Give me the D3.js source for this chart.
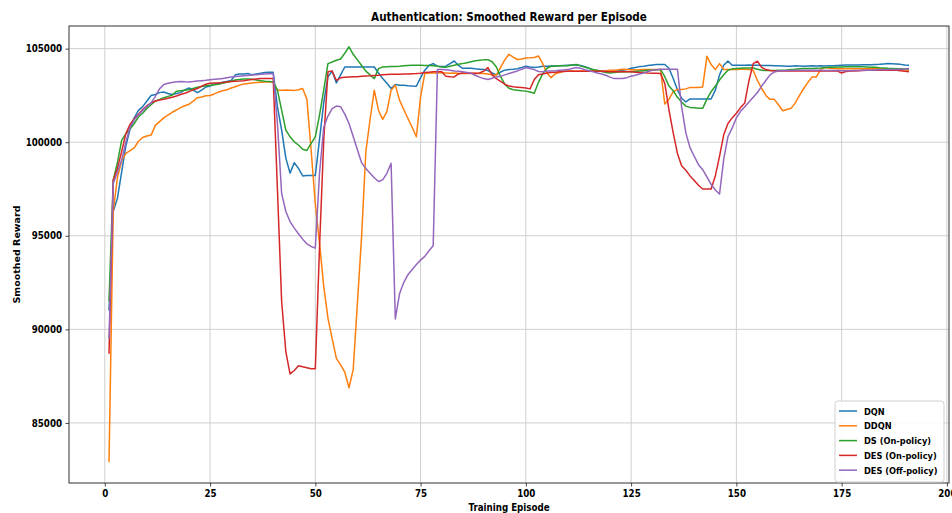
<!DOCTYPE html>
<html>
<head>
<meta charset="utf-8">
<script src="https://cdn.jsdelivr.net/npm/d3@7"></script>
<style>
  body { margin: 0; background: #fff; }
  svg text { font-family: "DejaVu Sans", sans-serif; font-weight: bold; fill: #000; }
</style>
</head>
<body>
<svg id="chart" width="952" height="513"></svg>
<script>
// Smoothed reward per training episode (episodes 1..191)
const dqn = [
  91000, 96300, 97000, 98400, 99800, 100700, 101300, 101700, 101900, 102200,
  102500, 102550, 102650, 102680, 102600, 102550, 102600, 102650, 102800, 102900,
  102780, 102650, 102780, 102950, 103000, 103100, 103150, 103200, 103250, 103300,
  103600, 103650, 103650, 103670, 103600, 103650, 103680, 103720, 103740, 103740,
  101900, 100650, 99150, 98350, 98900, 98600, 98200, 98220, 98220, 98220,
  100150, 102100, 103500, 103800, 103170, 103600, 104020, 104020, 104020, 104020,
  104020, 104020, 104020, 104020, 103700, 103400, 103150, 102870, 103080, 103050,
  103050, 103020, 103000, 102990, 103450, 103850, 104100, 104200, 104060, 104050,
  104060, 104200, 104340, 104100, 103950, 103950, 103950, 103920, 103900, 103880,
  103830, 103700, 103600, 103750, 103850, 103880, 103900, 103930, 104000, 104060,
  104020, 103990, 104020, 104060, 104060, 104070, 104070, 104080, 104100, 104110,
  104120, 104130, 104100, 104030, 103950, 103850, 103810, 103800, 103800, 103790,
  103800, 103820, 103850, 103880, 103950, 103990, 104040, 104060, 104100, 104130,
  104150, 104150, 104150, 103950, 103400, 102800, 102350, 102150, 102310, 102310,
  102310, 102310, 102310, 102310, 102780, 103600, 104110, 104340, 104110, 104110,
  104110, 104110, 104120, 104110, 104110, 104100, 104100, 104100, 104080, 104080,
  104070, 104060, 104060, 104080, 104070, 104060, 104070, 104080, 104070, 104080,
  104070, 104080, 104090, 104100, 104110, 104120, 104130, 104130, 104130, 104140,
  104140, 104140, 104150, 104160, 104180, 104200, 104190, 104180, 104160, 104120,
  104110
];

const ddqn = [
  82900, 96300, 98100, 99000, 99400, 99550, 99700, 100050, 100250, 100330,
  100380, 100900, 101100, 101300, 101450, 101600, 101720, 101850, 101950, 102030,
  102200, 102380, 102420, 102480, 102500, 102580, 102680, 102750, 102800, 102900,
  102960, 103050, 103110, 103140, 103170, 103190, 103210, 103220, 103220, 103200,
  102780, 102780, 102790, 102780, 102770, 102800, 102870, 102300, 99600, 96700,
  94600, 92300, 90600, 89500, 88450, 88100, 87710, 86880, 87860, 91400,
  95000, 99500, 101200, 102780, 101710, 101220, 101630, 102780, 103050, 102250,
  101750, 101270, 100800, 100290, 102420, 103670, 103700, 103700, 103700, 103720,
  103700, 103680, 103700, 103680, 103670, 103670, 103680, 103670, 103670, 103670,
  103650, 103600, 103580, 104000, 104400, 104700, 104550, 104420, 104450, 104500,
  104510, 104530, 104610, 104200, 103700, 103450, 103660, 103730, 103790, 103800,
  103800, 103790, 103800, 103810, 103810, 103800, 103800, 103810, 103820, 103840,
  103850, 103870, 103900, 103880, 103870, 103860, 103870, 103880, 103880, 103880,
  103880, 103880, 102040, 102300, 102700, 102820, 102820, 102850, 102930, 102930,
  102930, 102950, 104590, 104150, 103880, 104200, 103880, 103880, 103880, 103880,
  103900, 103900, 103880, 103850, 103300, 102870, 102500, 102290, 102290, 102000,
  101680, 101750, 101810, 102100, 102500, 102870, 103200, 103490, 103490, 103880,
  104000, 103950, 103940, 103930, 103920, 103920, 103920, 103920, 103920, 103920,
  103920, 103920, 103920, 103920, 103920, 103910, 103910, 103900, 103890, 103870,
  103850
];

const dsOn = [
  91500, 97970, 98900, 100100, 100450, 100700, 101000, 101350, 101550, 101800,
  102000, 102200, 102280, 102380, 102450, 102510, 102720, 102750, 102780, 102800,
  102870, 102940, 102980, 103020, 103040, 103070, 103100, 103150, 103200, 103260,
  103320, 103350, 103380, 103380, 103370, 103320, 103290, 103260, 103240, 103220,
  102780, 101710, 100650, 100290, 100020, 99850, 99620, 99560, 99940, 100290,
  101450, 102780, 104200, 104290, 104380, 104450, 104750, 105100, 104700, 104400,
  104100, 103800, 103600, 103400, 103930, 104020, 104030, 104040, 104050, 104060,
  104080, 104100, 104110, 104110, 104110, 104100, 104100, 104090, 104060, 104020,
  104000, 104060, 104110, 104170, 104200, 104250, 104300, 104350, 104380, 104400,
  104410, 104300, 104020, 103500, 103100, 102880, 102800, 102780, 102750, 102730,
  102680, 102620, 103200, 103650, 103950, 104060, 104070, 104080, 104090, 104090,
  104120, 104150, 104080, 104020, 103950, 103890, 103850, 103780, 103730, 103700,
  103720, 103750, 103760, 103760, 103760, 103780, 103800, 103820, 103840, 103850,
  103870, 103880, 103500, 103000, 102750, 102400, 102150, 101930, 101860, 101840,
  101820, 101810, 102300, 102700, 103000, 103320, 103600, 103850, 103920, 103940,
  103950, 103960, 103970, 103970, 103900, 103850, 103830, 103830, 103830, 103840,
  103850, 103860, 103880, 103900, 103930, 103940, 103940, 103940, 103950, 103960,
  103980, 104000, 104010, 104020, 104020, 104030, 104030, 104030, 104030, 104030,
  104020, 104010, 104000, 103980, 103970, 103950, 103940, 103930, 103920, 103910,
  103900
];

const desOn = [
  88700, 97970, 98600, 99500, 100460, 100950, 101250, 101500, 101750, 101950,
  102100, 102200, 102260, 102300, 102350, 102400, 102470, 102550, 102620, 102700,
  102800, 102870, 103000, 103100, 103150, 103170, 103170, 103190, 103220, 103240,
  103260, 103270, 103290, 103320, 103350, 103380, 103400, 103400, 103400, 103400,
  97500, 91500, 88800, 87620, 87800, 88050, 88000, 87950, 87900, 87900,
  94400, 100100, 103760, 103800, 103300, 103440, 103470, 103490, 103500, 103500,
  103520, 103540, 103550, 103570, 103580, 103600, 103620, 103630, 103630, 103630,
  103640, 103650, 103660, 103670, 103690, 103720, 103740, 103760, 103760, 103760,
  103530, 103500, 103490, 103650, 103700, 103700, 103690, 103680, 103700, 103800,
  103990, 103600, 103400, 103250, 103100, 103000, 102960, 102940, 102920, 102900,
  102850, 103350, 103600, 103650, 103700, 103720, 103740, 103760, 103780, 103790,
  103790, 103790, 103790, 103790, 103790, 103790, 103790, 103790, 103780, 103770,
  103770, 103760, 103760, 103760, 103760, 103740, 103730, 103720, 103700, 103690,
  103680, 103670, 103140, 101720, 100500, 99400, 98740, 98500, 98200, 97960,
  97700, 97500, 97500, 97500, 98200, 99240, 100400, 101000, 101300, 101550,
  101850, 102100, 103300, 104200, 104330, 104000, 103880, 103830, 103810, 103810,
  103810, 103810, 103810, 103810, 103810, 103810, 103810, 103810, 103810, 103800,
  103800, 103800, 103800, 103800, 103700, 103780, 103800, 103810, 103820, 103830,
  103840, 103840, 103850, 103850, 103850, 103850, 103850, 103850, 103820, 103790,
  103760
];

const desOff = [
  89500, 97800, 98400, 99040, 100020, 100800, 101200, 101450, 101700, 101900,
  102100, 102450, 102850, 103080, 103150, 103190, 103230, 103250, 103230, 103220,
  103240, 103270, 103290, 103310, 103340, 103360, 103380, 103400, 103440, 103480,
  103510, 103530, 103550, 103570, 103590, 103610, 103630, 103650, 103660, 103670,
  101000, 97270, 96300, 95760, 95410, 95110, 94820, 94570, 94430, 94340,
  98340, 100800, 101400, 101800, 101930, 101900, 101500, 101000, 100300, 99600,
  98900, 98600, 98340, 98100, 97900, 97990, 98340, 98870, 90560, 91900,
  92500, 92920, 93200, 93460, 93700, 93900, 94200, 94470, 103880, 103880,
  103870, 103840, 103810, 103790, 103760, 103720, 103680, 103580, 103480, 103400,
  103350, 103420, 103490, 103520, 103600, 103670, 103740, 103810, 103900, 103990,
  103940, 103880, 103780, 103770, 103800, 103810, 103820, 103840, 103860, 103880,
  103940, 103990, 103950, 103880, 103820, 103760, 103700, 103640, 103580, 103480,
  103400, 103400, 103400, 103450, 103530, 103580, 103640, 103700, 103780, 103850,
  103870, 103900, 103900, 103900, 103900, 103900, 101900, 100500, 99700, 99250,
  98800, 98530, 98150, 97750, 97450, 97230, 99100, 100300, 100750, 101300,
  101650, 101900, 102150, 102400, 102650, 103000, 103300, 103600, 103750, 103800,
  103820, 103830, 103830, 103840, 103840, 103850, 103850, 103850, 103850, 103840,
  103830, 103830, 103830, 103830, 103820, 103820, 103820, 103830, 103830, 103840,
  103850, 103850, 103860, 103870, 103870, 103880, 103880, 103890, 103900, 103910,
  103940
];

const seriesNames = ["DQN", "DDQN", "DS (On-policy)", "DES (On-policy)", "DES (Off-policy)"];
const seriesColors = ["#1f77b4", "#ff7f0e", "#2ca02c", "#d62728", "#9467bd"];
const xTicks = [0, 25, 50, 75, 100, 125, 150, 175, 200];
const yTicks = [85000, 90000, 95000, 100000, 105000];

const seriesValues = [dqn, ddqn, dsOn, desOn, desOff];
const episodes = dqn.map((_, i) => i + 1);
const series = seriesNames.map((name, k) => ({
  name,
  color: seriesColors[k],
  points: seriesValues[k].map((v, i) => ({ ep: episodes[i], v }))
}));

// Plot frame
const frame = { left: 69, right: 949, top: 26, bottom: 483 };
const SX = 0.87; // horizontal squeeze for text glyphs

// Axis limits padded by 5% on each side
const xExt = d3.extent(episodes);
const xPad = (xExt[1] - xExt[0]) * 0.05;
const allVals = seriesValues.flat();
const yExt = d3.extent(allVals);
const yPad = (yExt[1] - yExt[0]) * 0.05;

const x = d3.scaleLinear().domain([xExt[0] - xPad, xExt[1] + xPad]).range([frame.left, frame.right]);
const y = d3.scaleLinear().domain([yExt[0] - yPad, yExt[1] + yPad]).range([frame.bottom, frame.top]);

const svg = d3.select("#chart");

// Grid
const grid = svg.append("g").attr("stroke", "#cfcfcf").attr("stroke-width", 1);
grid.selectAll("line.v").data(xTicks).join("line")
  .attr("x1", d => x(d)).attr("x2", d => x(d))
  .attr("y1", frame.top).attr("y2", frame.bottom);
grid.selectAll("line.h").data(yTicks).join("line")
  .attr("x1", frame.left).attr("x2", frame.right)
  .attr("y1", d => y(d)).attr("y2", d => y(d));

// Series lines
const line = d3.line().x(d => x(d.ep)).y(d => y(d.v));
const clip = svg.append("clipPath").attr("id", "plotclip").append("rect")
  .attr("x", frame.left).attr("y", frame.top)
  .attr("width", frame.right - frame.left).attr("height", frame.bottom - frame.top);
svg.append("g").attr("clip-path", "url(#plotclip)")
  .selectAll("path").data(series).join("path")
  .attr("d", d => line(d.points))
  .attr("fill", "none")
  .attr("stroke", d => d.color)
  .attr("stroke-width", 1.5)
  .attr("stroke-linejoin", "round");

// Axes
const xAxis = svg.append("g").attr("transform", `translate(0,${frame.bottom})`)
  .call(d3.axisBottom(x).tickValues(xTicks).tickFormat(d3.format("d")).tickSize(3.5).tickPadding(3.5));
const yAxis = svg.append("g").attr("transform", `translate(${frame.left},0)`)
  .call(d3.axisLeft(y).tickValues(yTicks).tickFormat(d3.format("d")).tickSize(3.5).tickPadding(3.5));
[xAxis, yAxis].forEach(g => {
  g.select(".domain").remove();
  g.selectAll(".tick line").attr("stroke", "#333").attr("stroke-width", 0.9);
  g.selectAll(".tick text").attr("font-size", 10).attr("font-family", null)
    .attr("transform", `scale(${SX},1)`);
});
yAxis.selectAll(".tick text").attr("x", -7 / SX);

// Frame border
svg.append("rect")
  .attr("x", frame.left).attr("y", frame.top)
  .attr("width", frame.right - frame.left).attr("height", frame.bottom - frame.top)
  .attr("fill", "none").attr("stroke", "#333").attr("stroke-width", 1);

// Titles
svg.append("text")
  .attr("transform", `translate(${(frame.left + frame.right) / 2},21) scale(${SX},1)`)
  .attr("text-anchor", "middle").attr("font-size", 12)
  .text("Authentication: Smoothed Reward per Episode");
svg.append("text")
  .attr("transform", `translate(${(frame.left + frame.right) / 2},511) scale(${SX},1)`)
  .attr("text-anchor", "middle").attr("font-size", 10)
  .text("Training Episode");
svg.append("text")
  .attr("transform", `translate(20,${(frame.top + frame.bottom) / 2}) rotate(-90) scale(1,${SX})`)
  .attr("text-anchor", "middle").attr("font-size", 9.5)
  .text("Smoothed Reward");

// Legend
const legend = svg.append("g").attr("transform", "translate(835,401)");
legend.append("rect")
  .attr("width", 109).attr("height", 81).attr("rx", 3)
  .attr("fill", "#fff").attr("fill-opacity", 0.85)
  .attr("stroke", "#d0d0d0").attr("stroke-width", 1);
const items = legend.selectAll("g.item").data(series).join("g")
  .attr("transform", (d, i) => `translate(0,${10 + i * 14.8})`);
items.append("line")
  .attr("x1", 4).attr("x2", 22)
  .attr("stroke", d => d.color).attr("stroke-width", 1.5);
items.append("text")
  .attr("transform", `translate(29,3.5) scale(${SX},1)`)
  .attr("font-size", 9.5)
  .text(d => d.name);
</script>
</body>
</html>
